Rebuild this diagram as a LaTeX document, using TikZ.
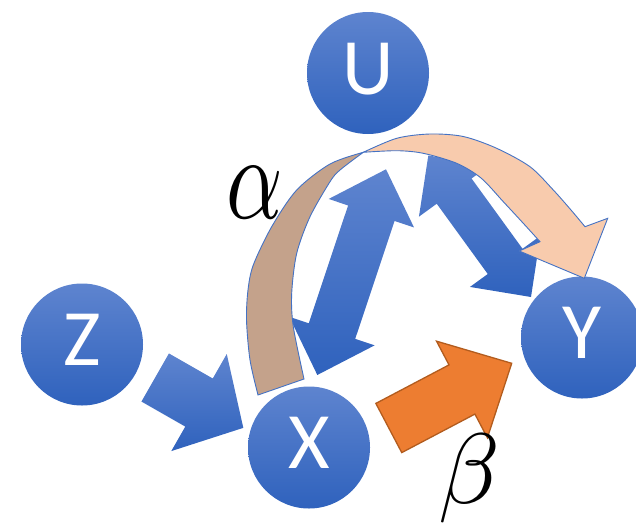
\documentclass[tikz,border=0pt]{standalone}
\usepackage{fontspec}
\newfontfamily\varfont{Carlito}
\usepackage{graphicx}
\usetikzlibrary{calc}
\definecolor{nodetop}{RGB}{94, 132, 207}
\definecolor{nodebot}{RGB}{47, 98, 189}
\definecolor{under}{RGB}{196, 162, 139}
\definecolor{over}{RGB}{248, 203, 173}
\definecolor{rim}{RGB}{68, 114, 196}
\definecolor{effect}{RGB}{237, 125, 49}
\definecolor{effectedge}{RGB}{178, 92, 30}

\tikzset{
  var/.style={circle, minimum size=122pt, inner sep=0pt, draw=none,
    top color=nodetop, bottom color=nodebot, text=white, text depth=9pt,
    font=\varfont\fontsize{80}{80}\selectfont},
  blockblue/.style={top color=nodetop, bottom color=nodebot},
  blockorange/.style={fill=effect, draw=effectedge, line width=1.3pt},
  underside/.style={fill=under, draw=rim, line width=0.9pt},
  upperside/.style={fill=over, draw=rim, line width=0.9pt},
  coef/.style={inner sep=0pt}
}

% 矢印の向きと長さ
\newcommand\arrowframe[2]{%
  \path let \p1=($(#2)-(#1)$) in
    \pgfextra{\pgfmathparse{atan2(\y1,\x1)}\xdef\arang{\pgfmathresult}%
              \pgfmathparse{veclen(\x1,\y1)}\xdef\arlen{\pgfmathresult}};}
% 片矢印 [style]{始点}{終点}{軸の半幅}{頭の半幅}{頭の長さ}
\newcommand\onearrow[6][]{%
  \arrowframe{#2}{#3}%
  \path[#1, shift={(#2)}, rotate=\arang]
    (0,#4) -- (\arlen-#6,#4) -- (\arlen-#6,#5) -- (\arlen,0)
    -- (\arlen-#6,-#5) -- (\arlen-#6,-#4) -- (0,-#4) -- cycle;}
% 両矢印
\newcommand\twoarrow[6][]{%
  \arrowframe{#2}{#3}%
  \path[#1, shift={(#2)}, rotate=\arang]
    (0,0) -- (#6,#5) -- (#6,#4) -- (\arlen-#6,#4) -- (\arlen-#6,#5) -- (\arlen,0)
    -- (\arlen-#6,-#5) -- (\arlen-#6,-#4) -- (#6,-#4) -- (#6,-#5) -- cycle;}

\begin{document}
\begin{tikzpicture}[x=1pt, y=-1pt]
    \useasboundingbox (0,0) rectangle (636,525);
    % 変数
    \node[var] (U) at (368,73) {U};
    \node[var] (Z) at (82,344.5) {Z};
    \node[var] (X) at (309,447.5) {X};
    \node[var] (Y) at (582,337.5) {Y};
    % 矢印の端
    \coordinate (zx-s) at (155.2,377.5);
    \coordinate (zx-t) at (243.4,427.9);
    \coordinate (xy-s) at (388.8,428);
    \coordinate (xy-t) at (511.7,363.3);
    \coordinate (ux-a) at (386,169.3);
    \coordinate (ux-b) at (317.3,375);
    \coordinate (uy-a) at (428.3,155.5);
    \coordinate (uy-b) at (531,297);
    % Z -> X, U <-> X, U <-> Y
    \onearrow[blockblue]{zx-s}{zx-t}{27.7}{55.9}{51}
    \twoarrow[blockblue]{ux-a}{ux-b}{24.5}{45}{46.3}
    \twoarrow[blockblue]{uy-a}{uy-b}{21.5}{43.5}{44}
    % X -> Y（beta）
    \onearrow[blockorange]{xy-s}{xy-t}{27.8}{54.6}{56.2}
    % 曲がった矢印（alpha）：裏側
    \path[underside] plot[smooth] coordinates {(258,395) (250,360) (246.5,320)
        (248,290) (253.3,265) (271.7,226.7) (296.7,190) (330,164) (363.3,152.3)}
      -- plot[smooth] coordinates {(363.3,152.3) (340,170) (330,181.7)
        (310,216.7) (296.7,253.3) (291.7,293.3) (293.3,326.7) (304,379)} -- cycle;
    % 表側と矢じり
    \path[upperside] plot[smooth] coordinates {(363.3,152.3) (396.7,138.3)
        (430,134) (463.3,136.5) (496.7,148.3) (530,166.7) (553.3,190) (571,210) (585,226.7)}
      -- (607.7,218.3) -- (584.3,278.3) -- (519.3,251) -- (540,241.7)
      -- plot[smooth] coordinates {(540,241.7) (523.3,223.3) (503.3,201.7)
        (481,178) (456.7,163.3) (423.3,153.3) (396.7,150.7) (363.3,152.3)} -- cycle;
    % 係数
    \node[coef] (alpha) at (254.5,193) {\scalebox{8.8}[12]{$\alpha$}};
    \node[coef] (beta) at (469.5,478.5) {\scalebox{10}{$\beta$}};
\end{tikzpicture}
\end{document}
